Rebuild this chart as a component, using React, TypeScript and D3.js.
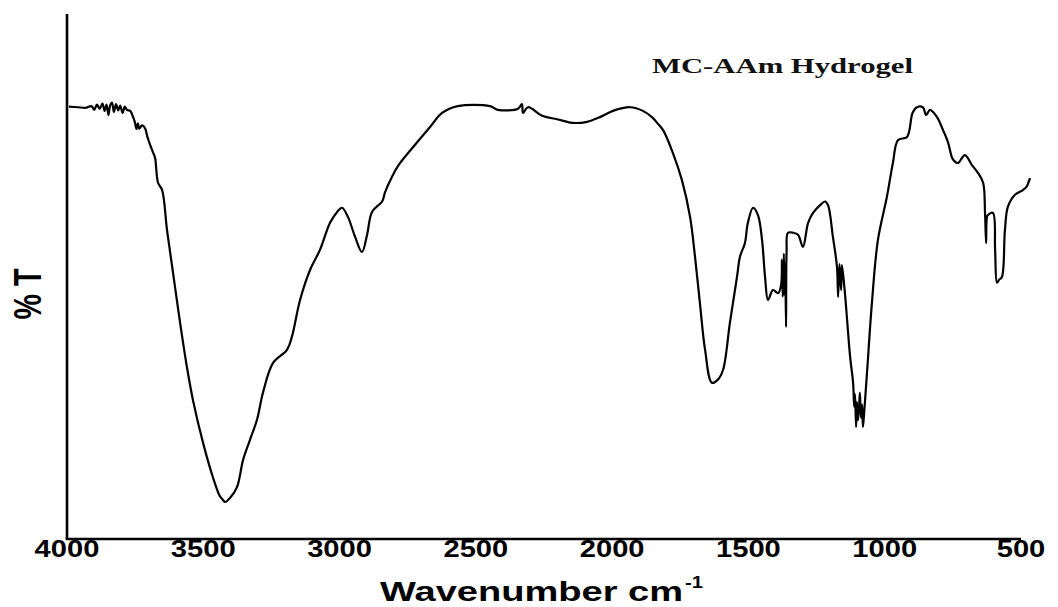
import React from "react";
import * as d3 from "d3";

// Wavenumber (cm-1) readings of the spectrum
const wavenumbers: number[] = [
  3993, 3960, 3930, 3910, 3900, 3890, 3880, 3870, 3862, 3855, 3848, 3842, 3835, 3828, 3820, 3812, 3805, 3796, 3788, 3780,
  3768, 3762, 3752, 3745, 3740, 3735, 3725, 3714, 3705, 3696, 3685, 3677, 3666, 3651, 3633, 3611, 3585, 3560, 3538, 3501,
  3465, 3440, 3428, 3420, 3400, 3376, 3354, 3329, 3303, 3281, 3244, 3193, 3175, 3145, 3108, 3072, 3035, 3009, 2991, 2969,
  2943, 2918, 2899, 2881, 2844, 2833, 2808, 2786, 2723, 2668, 2624, 2566, 2448, 2419, 2345, 2331, 2327, 2309, 2254, 2202,
  2147, 2092, 2045, 1997, 1934, 1887, 1850, 1835, 1813, 1777, 1744, 1714, 1696, 1678, 1659, 1634, 1612, 1593, 1568, 1542,
  1531, 1513, 1502, 1483, 1465, 1450, 1439, 1428, 1410, 1391, 1380, 1377, 1374, 1370, 1367, 1365, 1362, 1360, 1355, 1336,
  1318, 1300, 1281, 1263, 1237, 1219, 1208, 1190, 1175, 1171, 1166, 1160, 1157, 1146, 1127, 1116, 1112, 1109, 1105, 1102,
  1098, 1094, 1091, 1087, 1083, 1080, 1076, 1065, 1047, 1025, 992, 970, 951, 918, 898, 882, 860, 848, 834, 808,
  786, 768, 753, 745, 731, 706, 680, 658, 639, 632, 628, 625, 621, 603, 595, 588, 580, 570, 559, 548,
  522, 493, 480, 473, 467,
];

// % Transmittance readings matching the wavenumbers above
const transmittance: number[] = [
  82.2, 82.1, 82.0, 82.3, 81.6, 82.6, 81.8, 82.8, 81.4, 82.6, 80.6, 82.4, 83.0, 81.2, 82.7, 81.5, 82.4, 81.0, 82.2, 81.6,
  81.4, 80.8, 79.4, 77.9, 79.0, 78.0, 78.6, 78.1, 76.4, 75.0, 73.5, 72.4, 67.6, 66.2, 58.5, 50.3, 40.7, 32.2, 25.9, 17.7,
  11.1, 7.5, 6.7, 6.3, 7.2, 9.2, 14.4, 18.2, 22.1, 27.3, 33.0, 35.5, 38.0, 45.1, 50.9, 54.7, 59.9, 62.0, 62.8, 61.0,
  57.2, 54.3, 57.6, 62.0, 64.0, 65.8, 68.7, 70.8, 74.9, 78.3, 81.0, 82.3, 82.3, 81.6, 81.8, 82.7, 81.0, 82.1, 80.4, 79.8,
  79.1, 79.3, 80.2, 81.4, 82.1, 81.4, 80.0, 79.1, 77.7, 73.3, 68.1, 61.0, 53.4, 44.5, 35.5, 29.2, 29.8, 31.7, 40.7, 49.5,
  53.4, 56.0, 59.9, 62.8, 61.4, 56.6, 49.5, 45.1, 47.0, 46.4, 48.0, 52.8, 45.7, 54.0, 46.0, 52.0, 39.9, 54.3, 58.0, 58.0,
  57.6, 55.3, 59.9, 61.8, 63.3, 64.0, 63.3, 57.2, 51.4, 45.7, 52.0, 47.0, 51.8, 46.4, 34.2, 29.2, 24.6, 27.0, 20.7, 25.5,
  22.0, 24.6, 27.3, 22.5, 25.0, 20.7, 23.0, 31.1, 44.5, 56.6, 64.9, 71.4, 75.8, 76.4, 81.0, 82.1, 82.1, 80.6, 81.6, 80.2,
  77.7, 75.4, 72.4, 71.8, 71.4, 72.9, 71.0, 69.5, 67.6, 61.8, 56.0, 61.0, 61.4, 61.8, 54.7, 48.4, 49.0, 49.5, 58.5, 63.0,
  65.3, 66.2, 66.8, 67.6, 68.5,
];

const xTicks: number[] = [4000, 3500, 3000, 2500, 2000, 1500, 1000, 500];
const chartTitle = "MC-AAm Hydrogel";
const xAxisLabel = "Wavenumber cm";
const xAxisSup = "-1";
const yAxisLabel = "% T";

const W = 1058;
const H = 607;

export default function App() {
  const x = d3.scaleLinear().domain([4000, 500]).range([67, 1021]);
  const y = d3.scaleLinear().domain([-0.8, 100]).range([539, 14]);
  const pts: [number, number][] = wavenumbers.map((w, i) => [w, transmittance[i]]);
  const line = d3
    .line<[number, number]>()
    .x((d) => x(d[0]))
    .y((d) => y(d[1]))
    .curve(d3.curveCatmullRom.alpha(0.5));
  const path = line(pts) || "";
  const sans = "'Liberation Sans', Arial, sans-serif";
  return (
    <svg
      width={W}
      height={H}
      style={{ position: "absolute", left: 0, top: 0, display: "block", background: "#fff" }}
    >
      <path d={path} fill="none" stroke="#000" strokeWidth={2.2} strokeLinejoin="round" />
      {/* axes */}
      <line x1={x(4000)} x2={x(4000)} y1={y(100)} y2={y(-0.8)} stroke="#000" strokeWidth={2.6} />
      <line x1={x(4000) - 1.3} x2={x(500)} y1={y(-0.8)} y2={y(-0.8)} stroke="#000" strokeWidth={2.6} />
      {xTicks.map((t) => {
        const label = String(t);
        return (
          <text
            key={t}
            x={x(t)}
            y={557}
            textAnchor="middle"
            fontFamily={sans}
            fontWeight="bold"
            fontSize={23}
            textLength={label.length * 16.2}
            lengthAdjust="spacingAndGlyphs"
            fill="#000"
          >
            {label}
          </text>
        );
      })}
      <text
        x={380}
        y={601}
        fontFamily={sans}
        fontWeight="bold"
        fontSize={27}
        textLength={303}
        lengthAdjust="spacingAndGlyphs"
        fill="#000"
      >
        {xAxisLabel}
      </text>
      <text
        x={685}
        y={588}
        fontFamily={sans}
        fontWeight="bold"
        fontSize={17}
        textLength={18}
        lengthAdjust="spacingAndGlyphs"
        fill="#000"
      >
        {xAxisSup}
      </text>
      <text
        transform="translate(41,294) rotate(-90)"
        textAnchor="middle"
        fontFamily={sans}
        fontWeight="bold"
        fontSize={38}
        textLength={51}
        lengthAdjust="spacingAndGlyphs"
        fill="#000"
      >
        {yAxisLabel}
      </text>
      <text
        x={652}
        y={73}
        fontFamily="'Liberation Serif', 'Times New Roman', serif"
        fontWeight="bold"
        fontSize={21}
        textLength={261}
        lengthAdjust="spacingAndGlyphs"
        fill="#111"
      >
        {chartTitle}
      </text>
    </svg>
  );
}
